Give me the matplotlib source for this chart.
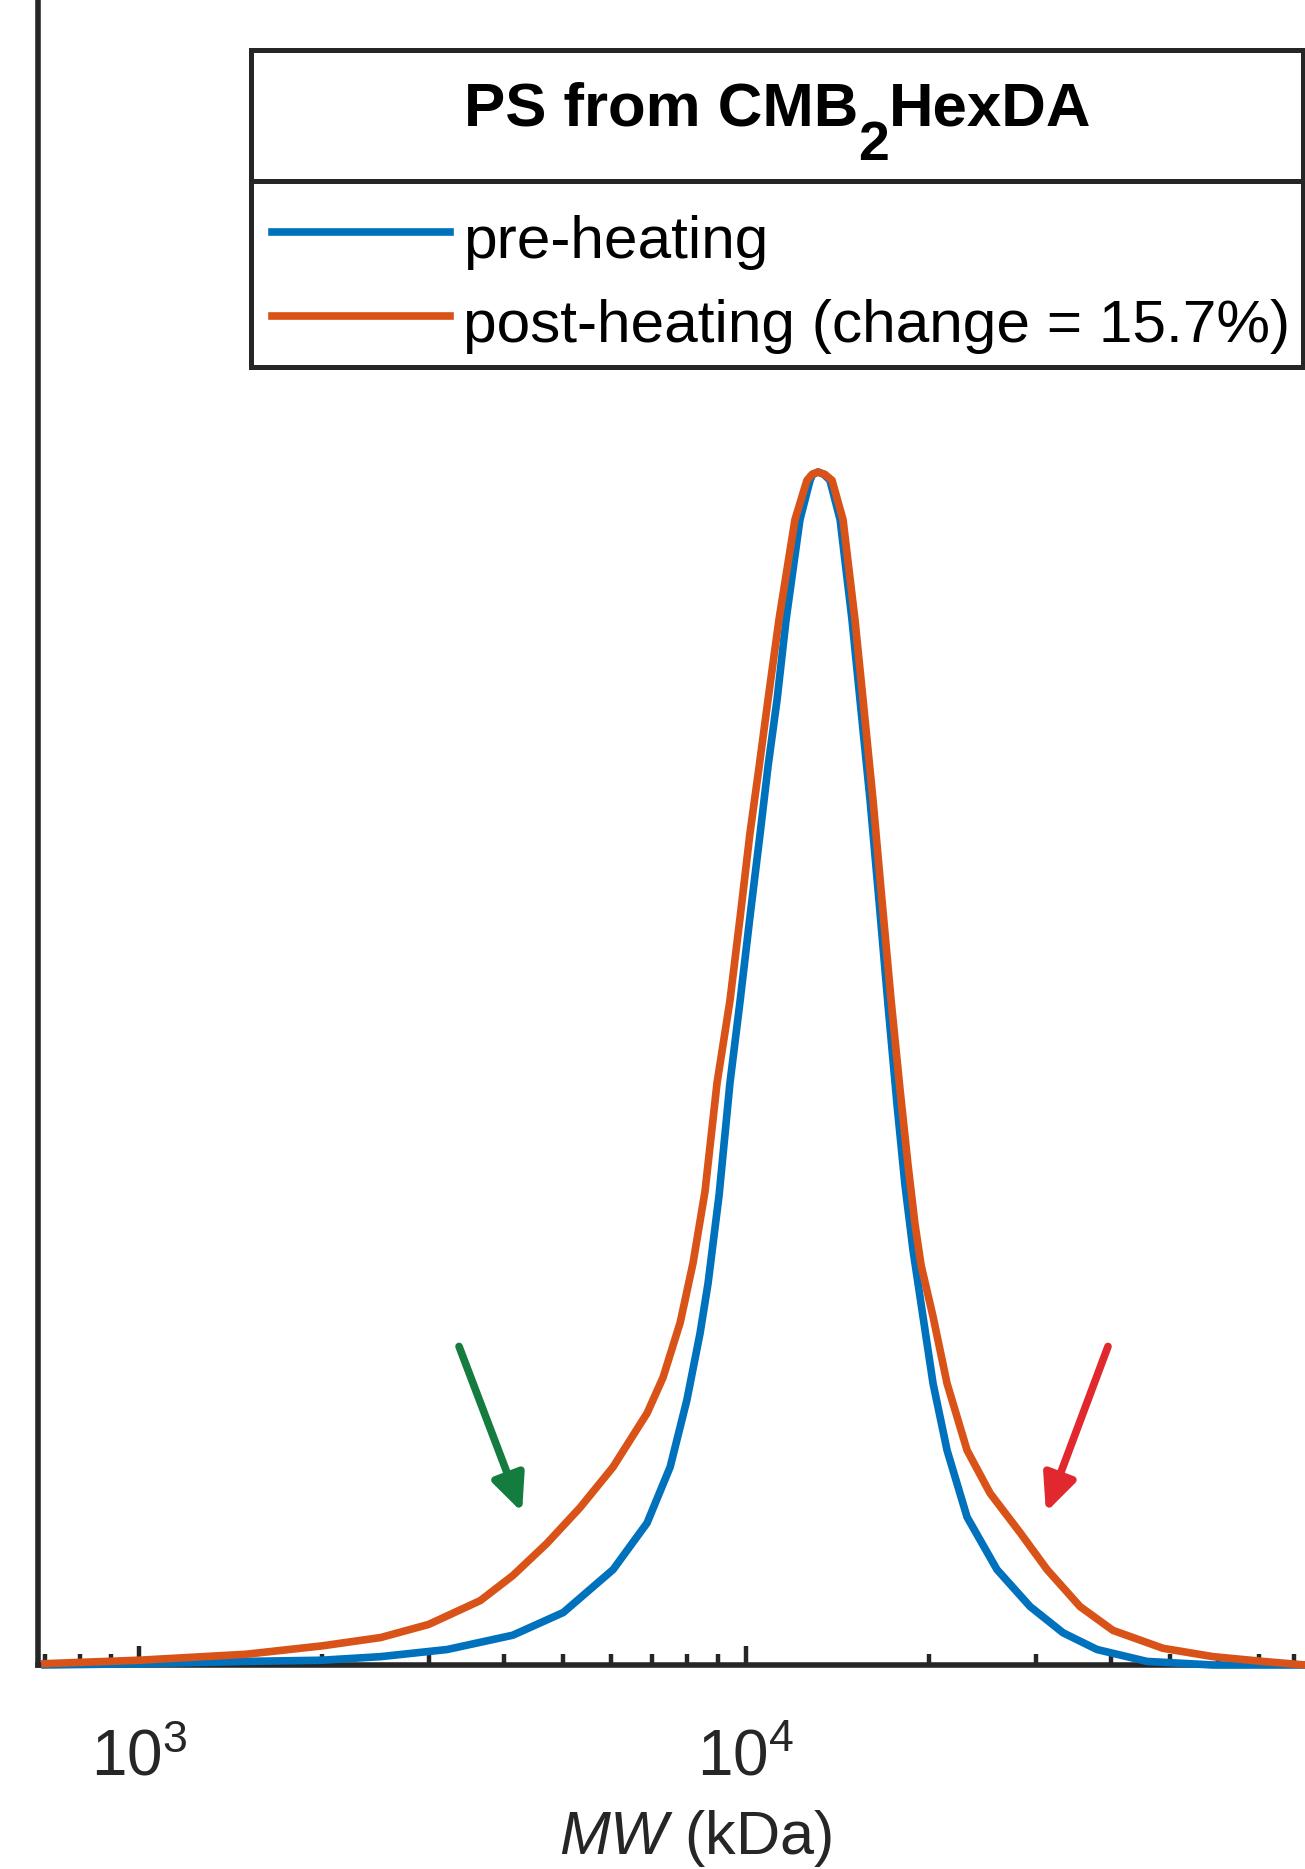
import matplotlib
matplotlib.use('Agg')
import matplotlib.pyplot as plt
from matplotlib.lines import Line2D
from matplotlib.patches import Rectangle
from matplotlib.ticker import LogLocator, FixedLocator

plt.rcParams['font.family'] = ['Liberation Sans', 'DejaVu Sans']
plt.rcParams['mathtext.fontset'] = 'custom'
plt.rcParams['mathtext.rm'] = 'Liberation Sans'
plt.rcParams['mathtext.it'] = 'Liberation Sans:italic'
plt.rcParams['mathtext.bf'] = 'Liberation Sans:bold'

# molecular weight (kDa) and normalised signal
mw_pre = [690, 1000, 1500, 2000, 2500, 3220, 4130, 5000, 6040, 6870, 7500, 7990,
          8400, 8660, 9030, 9410, 9780, 10150, 10550, 10870, 11250, 11640, 12270,
          12750, 12875, 13140, 13440, 13750, 14290, 14950, 15410, 16010, 16560,
          17140, 17740, 18280, 18840, 19570, 20330, 21440, 23130, 25910, 29380,
          33290, 37860, 45770, 58820, 100000]
sig_pre = [0.000, 0.001, 0.003, 0.004, 0.007, 0.013, 0.025, 0.044, 0.080, 0.119,
           0.166, 0.222, 0.278, 0.320, 0.394, 0.488, 0.557, 0.627, 0.697, 0.753,
           0.809, 0.876, 0.960, 0.993, 0.998, 1.000, 0.998, 0.993, 0.960, 0.876,
           0.809, 0.725, 0.641, 0.553, 0.469, 0.402, 0.348, 0.292, 0.236, 0.180,
           0.124, 0.080, 0.049, 0.027, 0.013, 0.003, 0.000, 0.000]

mw_post = [690, 1000, 1500, 2000, 2500, 3000, 3650, 4130, 4700, 5330, 6040, 6870,
           7300, 7790, 8180, 8560, 8960, 9410, 9780, 10150, 10510, 10870, 11330,
           12040, 12600, 12845, 13140, 13490, 13860, 14450, 15120, 15590, 16190,
           16750, 17340, 17940, 18490, 18990, 19430, 20330, 21440, 23130, 25240,
           28280, 31330, 35500, 40230, 48640, 58820, 71070, 83360, 100000]
sig_post = [0.001, 0.004, 0.009, 0.016, 0.023, 0.034, 0.054, 0.075, 0.102, 0.132,
            0.166, 0.211, 0.241, 0.287, 0.337, 0.397, 0.488, 0.557, 0.627, 0.697,
            0.753, 0.809, 0.876, 0.960, 0.993, 0.998, 1.000, 0.998, 0.993, 0.960,
            0.876, 0.809, 0.725, 0.641, 0.557, 0.482, 0.419, 0.369, 0.335, 0.292,
            0.236, 0.180, 0.144, 0.111, 0.080, 0.049, 0.029, 0.014, 0.007, 0.003,
            0.000, 0.000]

labels = ['pre-heating', 'post-heating (change = 15.7%)']
colors = ['#0072BD', '#D95319']
dark = '#262626'

W, H = 1305, 1869


def fx(x):
    return x / W


def fy(y):
    return 1 - y / H


fig = plt.figure(figsize=(W / 100, H / 100), dpi=100)
# axes run past the right and top edges, as in the cropped original
ax = fig.add_axes([fx(38), fy(1665), (1353 - 38) / W, 1.45 * 1193 / H])

ax.plot(mw_pre, sig_pre, color=colors[0], lw=5.5, zorder=3, clip_on=False,
        solid_joinstyle='round', solid_capstyle='butt')
ax.plot(mw_post, sig_post, color=colors[1], lw=5.5, zorder=4, clip_on=False,
        solid_joinstyle='round', solid_capstyle='butt')

ax.set_xscale('log')
ax.set_xlim(681.7, 1e5)
ax.set_ylim(0, 1.45)
ax.set_yticks([])
ax.xaxis.set_major_locator(FixedLocator([1e3, 1e4]))
ax.xaxis.set_minor_locator(LogLocator(base=10, subs=range(2, 10)))

for s in ['top', 'right']:
    ax.spines[s].set_visible(False)
for s in ['left', 'bottom']:
    ax.spines[s].set_linewidth(4)
    ax.spines[s].set_color(dark)

ax.tick_params(axis='x', which='major', direction='in', length=14, width=3.2,
               pad=46, labelsize=46, colors=dark, labelcolor=dark)
ax.tick_params(axis='x', which='minor', direction='in', length=8, width=3.2,
               colors=dark)
ax.set_xlabel(r'$\mathit{MW}$ (kDa)', fontsize=44, color=dark, labelpad=14)

# arrows marking the low- and high-MW shoulders
arrow = '-|>,head_length=1.1,head_width=0.5'
ax.annotate('', xy=(4276, 0.128), xytext=(3367, 0.267),
            arrowprops=dict(arrowstyle=arrow, color='#137C3E', lw=5.5,
                            shrinkA=0, shrinkB=0, mutation_scale=20))
ax.annotate('', xy=(31200, 0.128), xytext=(39480, 0.267),
            arrowprops=dict(arrowstyle=arrow, color='#E0282E', lw=5.5,
                            shrinkA=0, shrinkB=0, mutation_scale=20))

# legend box with title row
fig.add_artist(Rectangle((fx(251), fy(367)), (1303 - 251) / W, (367 - 50) / H,
                         transform=fig.transFigure, facecolor='white',
                         edgecolor=dark, lw=3.6, zorder=5))
fig.add_artist(Line2D([fx(251), fx(1303)], [fy(181), fy(181)],
                      transform=fig.transFigure, color=dark, lw=3.6, zorder=6))

for i, (lab, c) in enumerate(zip(labels, colors)):
    yl = 232 + i * 84
    fig.add_artist(Line2D([fx(272), fx(450)], [fy(yl), fy(yl)],
                          transform=fig.transFigure, color=c, lw=5.5, zorder=6))
    fig.text(fx(463), fy(yl + 26), lab, fontsize=43.5, va='baseline', zorder=7)

# title "PS from CMB2HexDA" with a large subscript 2
fig.canvas.draw()
r = fig.canvas.get_renderer()
parts = [('PS from CMB', 44.5, 126), ('2', 40, 160), ('HexDA', 44.5, 126)]
texts = [fig.text(0, fy(b), s, fontsize=fs, fontweight='bold', va='baseline',
                  zorder=7) for s, fs, b in parts]
widths = [t.get_window_extent(r).width for t in texts]
x0 = 778 - sum(widths) / 2
for t, w in zip(texts, widths):
    t.set_x(fx(x0))
    x0 += w

fig.savefig('out.png', dpi=100)
